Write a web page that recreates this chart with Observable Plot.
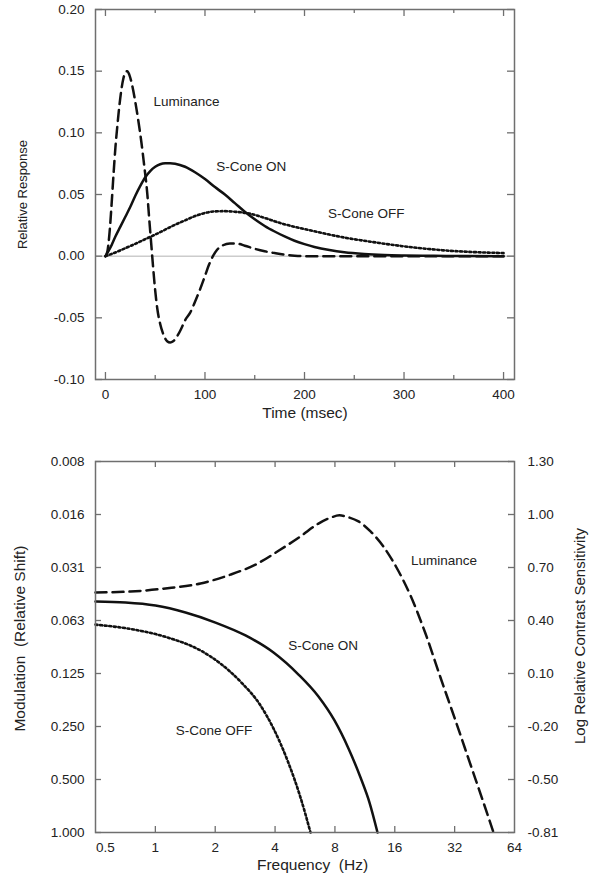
<!DOCTYPE html>
<html>
<head>
<meta charset="utf-8">
<script src="https://cdn.jsdelivr.net/npm/d3@7"></script>
<script src="https://cdn.jsdelivr.net/npm/@observablehq/plot@0.6"></script>
<style>
html, body { margin: 0; padding: 0; background: #fff; }
#chart svg { display: block; }
</style>
</head>
<body>
<div id="chart"></div>
<script>
// ---------- Top panel data: impulse responses ----------
const lumT = [0,2,4,6,8,10,12,14,16,18,20,22,24,27,30,33,36,39,42,44,46,48,50,52,55,58,62,65,68,72,76,80,85,90,95,100,104,108,112,118,125,132,140,150,160,170,180,190,200,250,300,350,400];
const lumV = [0,0.004,0.018,0.040,0.065,0.088,0.106,0.122,0.135,0.144,0.149,0.150,0.147,0.138,0.125,0.110,0.093,0.073,0.051,0.030,0.010,-0.010,-0.028,-0.042,-0.055,-0.063,-0.069,-0.070,-0.069,-0.065,-0.059,-0.052,-0.046,-0.037,-0.027,-0.016,-0.007,0.000,0.005,0.0088,0.0103,0.0102,0.0085,0.006,0.004,0.0025,0.0012,0.0004,0,0,0,0,0];

const onT = [0,5,10,15,20,25,30,35,40,45,50,55,60,65,70,80,90,100,110,120,130,140,150,160,170,180,190,200,210,225,240,260,280,300,330,360,400];
const onV = [0,0.007,0.016,0.024,0.032,0.040,0.049,0.057,0.064,0.069,0.0725,0.0745,0.0753,0.0754,0.075,0.0725,0.068,0.0625,0.056,0.050,0.043,0.036,0.030,0.0245,0.020,0.016,0.0125,0.0098,0.0075,0.005,0.0032,0.0018,0.001,0.0006,0.0003,0.0001,0];

const offT = [0,10,20,30,40,50,60,70,80,90,100,110,120,130,145,160,175,190,208,225,242,260,275,290,308,325,342,360,380,400];
const offV = [0,0.003,0.0065,0.010,0.0138,0.0175,0.0215,0.0255,0.029,0.0325,0.035,0.0363,0.0365,0.036,0.0345,0.031,0.027,0.0238,0.0205,0.0175,0.0148,0.0125,0.0107,0.009,0.0072,0.0058,0.0046,0.0037,0.003,0.0025];

const timeDomain = [-10, 411];
const respDomain = [-0.10, 0.20];
const timeMajor = [0, 100, 200, 300, 400];
const timeMinor = [50, 150, 250, 350];
const timeLabels = ["0", "100", "200", "300", "400"];
const respTicks = [0.20, 0.15, 0.10, 0.05, 0.00, -0.05, -0.10];
const respLabels = ["0.20", "0.15", "0.10", "0.05", "0.00", "-0.05", "-0.10"];

const topLabelText = ["Luminance", "S-Cone ON", "S-Cone OFF"];
const topLabelT = [81.5, 146.5, 262];
const topLabelV = [0.1256, 0.0729, 0.0348];

// ---------- Bottom panel data: temporal modulation sensitivity ----------
const lumF = [0.5,0.750,1.124,1.687,2.387,3.188,4.259,5.37,6.61,7.60,8.43,9.36,10.51,12.08,14.04,16.32,19.19,22.83,27.16,32.31,38.44,44.69,50.2];
const lumM = [0.0433,0.0428,0.0411,0.0385,0.0343,0.0301,0.0247,0.0208,0.0176,0.0163,0.0158,0.0162,0.0171,0.0195,0.0238,0.03125,0.0451,0.0741,0.1317,0.231,0.411,0.676,1.0];

const onF = [0.5,0.708,1.002,1.418,2.006,2.840,3.928,5.247,6.61,7.96,9.36,10.76,11.94,13.10];
const onM = [0.0488,0.0494,0.0514,0.0563,0.0642,0.0760,0.0950,0.1267,0.1689,0.2311,0.3333,0.4871,0.6756,1.0];

const offF = [0.5,0.776,1.15,1.69,2.13,2.68,3.38,3.93,4.62,5.37,6.03];
const offM = [0.0660,0.0703,0.0780,0.0926,0.110,0.139,0.190,0.257,0.390,0.633,1.0];

const freqDomain = [0.5, 64];
const modDomain = [1, 1/128];
const freqTicks = [1, 2, 4, 8, 16, 32, 64];
const freqLabels = ["1", "2", "4", "8", "16", "32", "64"];
const modTicks = [1/128, 1/64, 1/32, 1/16, 1/8, 1/4, 1/2, 1];
const modLabels = ["0.008", "0.016", "0.031", "0.063", "0.125", "0.250", "0.500", "1.000"];
const sensLabels = ["1.30", "1.00", "0.70", "0.40", "0.10", "-0.20", "-0.50", "-0.81"];

const botLabelText = ["Luminance", "S-Cone ON", "S-Cone OFF"];
const botLabelF = [28.3, 6.97, 1.97];
const botLabelM = [0.0285, 0.0867, 0.263];

// ---------- helpers ----------
const FONT = "'Liberation Sans', Arial, Helvetica, sans-serif";
const FRAME = "#6f6f6f";
const INK = "#111";
const TXT = "#222";
const DOTS = "2,2.6";
const DASH = "11,6";
const zipT = (T, V) => T.map((t, i) => ({t, v: V[i]}));
const zipF = (F, M) => F.map((f, i) => ({f, m: M[i]}));
const labelOf = (ticks, labels) => { const m = new Map(ticks.map((d, i) => [d, labels[i]])); return d => m.get(d); };

// ---------- Top panel ----------
const W = 600, ML = 95, MR = 86;
const H1 = 440, MT1 = 9, MB1 = 61;
const fh1 = H1 - MT1 - MB1, fw = W - ML - MR;

const topPlot = Plot.plot({
  width: W, height: H1,
  marginTop: MT1, marginBottom: MB1, marginLeft: ML, marginRight: MR,
  x: {type: "linear", domain: timeDomain},
  y: {type: "linear", domain: respDomain},
  style: {fontFamily: FONT, fontSize: "13.5px", color: TXT, background: "#fff", overflow: "visible"},
  marks: [
    Plot.ruleY([0], {stroke: "#cccccc", strokeWidth: 1.5}),
    Plot.ruleX(timeMajor, {stroke: FRAME, strokeWidth: 1.3, insetTop: fh1 - 7}),
    Plot.ruleX(timeMinor, {stroke: FRAME, strokeWidth: 1.3, insetTop: fh1 - 4}),
    Plot.ruleX(timeMajor, {stroke: FRAME, strokeWidth: 1.3, insetBottom: fh1 - 7}),
    Plot.ruleX(timeMinor, {stroke: FRAME, strokeWidth: 1.3, insetBottom: fh1 - 4}),
    Plot.ruleY(respTicks, {stroke: FRAME, strokeWidth: 1.3, insetRight: fw - 7}),
    Plot.ruleY(respTicks, {stroke: FRAME, strokeWidth: 1.3, insetLeft: fw - 7}),
    Plot.axisX({ticks: timeMajor, tickSize: 0, tickPadding: 10, tickFormat: labelOf(timeMajor, timeLabels), label: null}),
    Plot.axisY({ticks: respTicks, tickSize: 0, tickPadding: 11, tickFormat: labelOf(respTicks, respLabels), label: null}),
    Plot.line(zipT(offT, offV), {x: "t", y: "v", stroke: INK, strokeWidth: 2.6, strokeDasharray: DOTS, curve: "monotone-x"}),
    Plot.line(zipT(onT, onV), {x: "t", y: "v", stroke: INK, strokeWidth: 2.5, curve: "monotone-x"}),
    Plot.line(zipT(lumT, lumV), {x: "t", y: "v", stroke: INK, strokeWidth: 2.5, strokeDasharray: DASH, curve: "monotone-x"}),
    Plot.frame({stroke: FRAME, strokeWidth: 1.5}),
    Plot.text(topLabelText, {x: (d, i) => topLabelT[i], y: (d, i) => topLabelV[i], text: d => d, fill: TXT, fontSize: 13.5, textAnchor: "middle"}),
    Plot.text(["Relative Response"], {text: d => d, frameAnchor: "left", textAnchor: "middle", rotate: -90, dx: -73, fontSize: 13, fill: TXT}),
    Plot.text(["Time (msec)"], {text: d => d, frameAnchor: "bottom", textAnchor: "middle", dy: 38, fontSize: 15.5, fill: TXT})
  ]
});

// ---------- Bottom panel ----------
const H2 = 451, MT2 = 21, MB2 = 59;
const fh2 = H2 - MT2 - MB2;

const botPlot = Plot.plot({
  width: W, height: H2,
  marginTop: MT2, marginBottom: MB2, marginLeft: ML, marginRight: MR,
  x: {type: "log", base: 2, domain: freqDomain},
  y: {type: "log", base: 2, domain: modDomain},
  style: {fontFamily: FONT, fontSize: "13.5px", color: TXT, background: "#fff", overflow: "visible"},
  marks: [
    Plot.ruleX(freqTicks.slice(0, -1), {stroke: FRAME, strokeWidth: 1.3, insetTop: fh2 - 6}),
    Plot.ruleX(freqTicks.slice(0, -1), {stroke: FRAME, strokeWidth: 1.3, insetBottom: fh2 - 6}),
    Plot.ruleY(modTicks, {stroke: FRAME, strokeWidth: 1.3, insetRight: fw - 6}),
    Plot.ruleY(modTicks, {stroke: FRAME, strokeWidth: 1.3, insetLeft: fw - 6}),
    Plot.axisX({ticks: freqTicks, tickSize: 0, tickPadding: 10, tickFormat: labelOf(freqTicks, freqLabels), label: null}),
    Plot.axisX({ticks: [0.5], tickSize: 0, tickPadding: 10, dx: 10, tickFormat: () => "0.5", label: null}),
    Plot.axisY({anchor: "left", ticks: modTicks, tickSize: 0, tickPadding: 11, tickFormat: labelOf(modTicks, modLabels), label: null}),
    Plot.axisY({anchor: "right", ticks: modTicks, tickSize: 0, tickPadding: 13, tickFormat: labelOf(modTicks, sensLabels), label: null}),
    Plot.line(zipF(offF, offM), {x: "f", y: "m", stroke: INK, strokeWidth: 2.6, strokeDasharray: DOTS, curve: "monotone-x"}),
    Plot.line(zipF(onF, onM), {x: "f", y: "m", stroke: INK, strokeWidth: 2.5, curve: "monotone-x"}),
    Plot.line(zipF(lumF, lumM), {x: "f", y: "m", stroke: INK, strokeWidth: 2.5, strokeDasharray: DASH, curve: "monotone-x"}),
    Plot.frame({stroke: FRAME, strokeWidth: 1.5}),
    Plot.text(botLabelText, {x: (d, i) => botLabelF[i], y: (d, i) => botLabelM[i], text: d => d, fill: TXT, fontSize: 13.5, textAnchor: "middle"}),
    Plot.text(["Modulation \u00a0(Relative Shift)"], {text: d => d, frameAnchor: "left", textAnchor: "middle", rotate: -90, dx: -75, dy: -8.5, fontSize: 15.5, fill: TXT}),
    Plot.text(["Log Relative Contrast Sensitivity"], {text: d => d, frameAnchor: "right", textAnchor: "middle", rotate: -90, dx: 66, dy: -11, fontSize: 15, fill: TXT}),
    Plot.text(["Frequency \u00a0(Hz)"], {text: d => d, frameAnchor: "bottom", textAnchor: "middle", dx: 7.5, dy: 37, fontSize: 15.5, fill: TXT})
  ]
});

const chart = document.getElementById("chart");
chart.appendChild(topPlot);
chart.appendChild(botPlot);
</script>
</body>
</html>
